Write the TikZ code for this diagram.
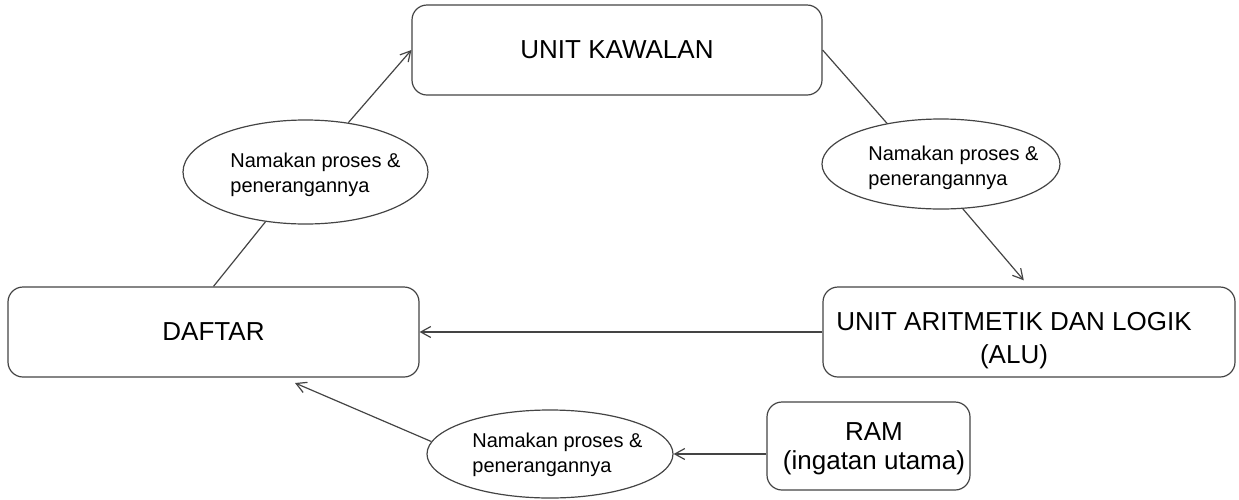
\documentclass[tikz,border=0pt]{standalone}
\usepackage{fontspec}
\setmainfont{Liberation Sans}
\usetikzlibrary{shapes.geometric,arrows.meta}

\definecolor{edgegray}{HTML}{444444}
\newcommand\bubblefont{\fontsize{10}{12.5}\selectfont}

\tikzset{
  unitbox/.style={draw=edgegray, line width=0.6pt, rounded corners=7.5pt,
                  inner sep=0pt, font=\fontsize{13}{16}\selectfont},
  bubble/.style={draw=edgegray, line width=0.6pt, ellipse, inner sep=0pt},
  bubbletext/.style={inner sep=0pt, align=left, anchor=north west, font=\bubblefont},
  link/.style={draw=edgegray, line width=0.6pt},
  arr/.style={link, -{Straight Barb[length=5pt,width=5.5pt]}}
}

\begin{document}
\begin{tikzpicture}[x=0.5pt, y=-0.5pt]
  \useasboundingbox (0,0) rectangle (1239,499);

  % the four units
  \node[unitbox, minimum width=205pt, minimum height=45pt] (kaw) at (617,50) {UNIT KAWALAN};
  \node[unitbox, minimum width=205.5pt, minimum height=45pt] (daftar) at (213.5,332) {DAFTAR};
  \node[unitbox, minimum width=206pt, minimum height=45pt] (alu) at (1029,332) {};
  \node[inner sep=0pt, align=center, anchor=north, font=\fontsize{13}{16.5}\selectfont]
       (alutext) at (1014,312) {UNIT ARITMETIK DAN LOGIK\\(ALU)};
  \node[unitbox, minimum width=101.5pt, minimum height=44pt] (ram) at (868.5,446) {};
  \node[inner sep=0pt, align=center, anchor=north, font=\fontsize{13}{14.5}\selectfont]
       (ramtext) at (874,422) {RAM\\(ingatan utama)};

  % process bubbles
  \node[bubble, minimum width=122.5pt, minimum height=52pt] (e1) at (305.5,172) {};
  \node[bubbletext] (t1) at (230,153) {Namakan proses \&\\penerangannya};
  \node[bubble, minimum width=119pt, minimum height=45pt] (e2) at (941,164) {};
  \node[bubbletext] (t2) at (868,146) {Namakan proses \&\\penerangannya};
  \node[bubble, minimum width=123pt, minimum height=44pt] (e3) at (550,454) {};
  \node[bubbletext] (t3) at (472,433) {Namakan proses \&\\penerangannya};

  % connectors
  \draw[link] (daftar.north) -- (e1);
  \draw[arr] (e1) -- (kaw.west);
  \draw[link] (kaw.east) -- (e2.143);
  \draw[arr, shorten >=4pt] (e2.-64) -- (alu.north);
  \draw[arr] (alu.west) -- (daftar.east);
  \draw[arr] (ram.west |- e3.east) -- (e3.east);
  \coordinate (dafin) at (295,383);
  \draw[arr] (e3.174) -- (dafin);
\end{tikzpicture}
\end{document}
